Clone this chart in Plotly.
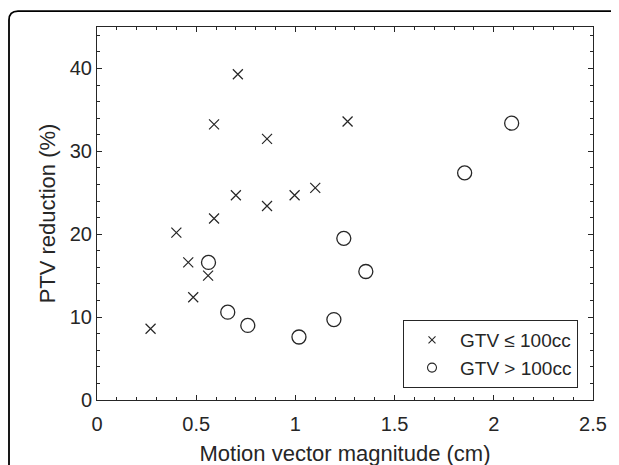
import plotly.graph_objects as go

# Data
small_x = [0.27, 0.40, 0.46, 0.485, 0.56, 0.59, 0.59, 0.70, 0.71, 0.857, 0.857, 0.996, 1.10, 1.263]
small_y = [8.6, 20.2, 16.6, 12.4, 15.0, 21.9, 33.25, 24.7, 39.3, 31.5, 23.4, 24.7, 25.6, 33.6]
large_x = [0.562, 0.659, 0.76, 1.018, 1.194, 1.244, 1.355, 1.853, 2.09]
large_y = [16.6, 10.6, 9.0, 7.6, 9.7, 19.5, 15.5, 27.4, 33.4]

label_small = "GTV ≤ 100cc"
label_large = "GTV > 100cc"
x_title = "Motion vector magnitude (cm)"
y_title = "PTV reduction (%)"
x_ticks = [0, 0.5, 1, 1.5, 2, 2.5]
x_ticklabels = ["0", "0.5", "1", "1.5", "2", "2.5"]
y_ticks = [0, 10, 20, 30, 40]

INK = "#262626"
FONT = "Liberation Sans, Arial, Helvetica, sans-serif"

fig = go.Figure()
fig.add_trace(go.Scatter(x=small_x, y=small_y, mode="markers", showlegend=False,
                         marker=dict(symbol="x-thin-open", size=10, color=INK,
                                     line=dict(width=1.2, color=INK))))
fig.add_trace(go.Scatter(x=large_x, y=large_y, mode="markers", showlegend=False,
                         marker=dict(symbol="circle-open", size=14, color=INK,
                                     line=dict(width=1.3, color=INK))))
# legend entries (smaller symbols as in the reference legend)
fig.add_trace(go.Scatter(x=[None], y=[None], mode="markers", name=label_small,
                         marker=dict(symbol="x-thin-open", size=7, color=INK,
                                     line=dict(width=1.1, color=INK))))
fig.add_trace(go.Scatter(x=[None], y=[None], mode="markers", name=label_large,
                         marker=dict(symbol="circle-open", size=9, color=INK,
                                     line=dict(width=1.1, color=INK))))

# page body has an 8px margin: screen position = figure position + 8
OFF = 8
W, H = 619, 465
# plot area on screen: left 97, right 593, top 27, bottom 402
L = 97 - OFF
T = 27 - OFF
R = W - (593 - OFF)
B = H - (402 - OFF)
pw, ph = W - L - R, H - T - B

def px(x):  # screen x -> paper
    return (x - OFF - L) / pw

def py(y):  # screen y -> paper
    return (H - B - (y - OFF)) / ph

x0, yt = px(9), py(11)
rx, ry = 9 / pw, 9 / ph
xr, yb = px(660), py(520)
frame = f"M {x0},{yb} L {x0},{yt - ry} Q {x0},{yt} {x0 + rx},{yt} L {xr},{yt}"

axis_common = dict(showline=True, linecolor=INK, linewidth=1, mirror="ticks",
                   ticks="inside", ticklen=5, tickwidth=1, tickcolor=INK,
                   showgrid=False, zeroline=False,
                   tickfont=dict(family=FONT, size=20, color=INK))

fig.update_layout(
    width=W, height=H,
    margin=dict(l=L, r=R, t=T, b=B),
    paper_bgcolor="white", plot_bgcolor="white",
    font=dict(family=FONT, color=INK),
    xaxis=dict(range=[0, 2.5], tickvals=x_ticks, ticktext=x_ticklabels,
               ticklabelstandoff=6,
               minor=dict(dtick=0.1, ticks="inside", ticklen=3, tickcolor=INK, showgrid=False),
               title=dict(text=x_title, font=dict(family=FONT, size=22, color=INK), standoff=11),
               **axis_common),
    yaxis=dict(range=[0, 45], tickvals=y_ticks,
               minor=dict(dtick=2, ticks="inside", ticklen=3, tickcolor=INK, showgrid=False),
               title=dict(text=y_title, font=dict(family=FONT, size=22, color=INK), standoff=8),
               **axis_common),
    legend=dict(x=px(578), y=py(390), xanchor="right", yanchor="bottom",
                bgcolor="white", bordercolor=INK, borderwidth=1,
                font=dict(family=FONT, size=19, color=INK),
                itemwidth=46, tracegroupgap=0),
    shapes=[dict(type="path", path=frame, xref="paper", yref="paper",
                 line=dict(color="black", width=1.8))],
)

fig.write_html("out.html")
